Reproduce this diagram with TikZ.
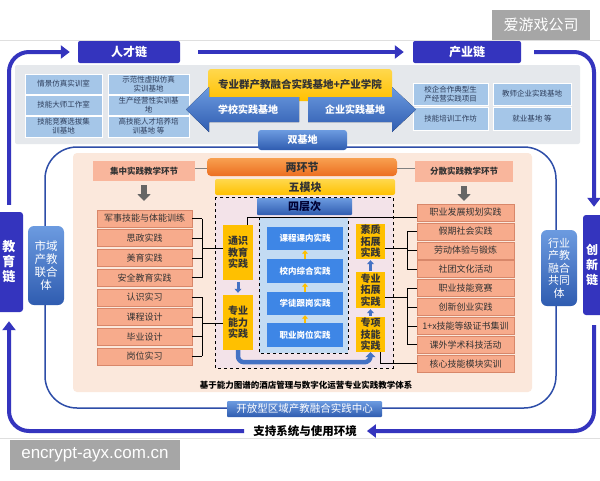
\documentclass[tikz,border=0pt]{standalone}
\usepackage{fontspec}
\setmainfont{Noto Sans CJK SC}
\newfontfamily\wmfont{Liberation Sans}
\usetikzlibrary{arrows.meta,calc}
\definecolor{chainblue}{HTML}{3434BE}
\definecolor{panelgray}{HTML}{E5E8EC}
\definecolor{smallblue}{HTML}{A5C6E8}
\definecolor{smalltext}{HTML}{2E3E5C}
\definecolor{midbluetop}{HTML}{6C9BE0}
\definecolor{midbluebot}{HTML}{2F5CB0}
\definecolor{gold}{HTML}{FFC000}
\definecolor{goldtop}{HTML}{FFD84D}
\definecolor{peach}{HTML}{FBE8DC}
\definecolor{salmon}{HTML}{F7AB8C}
\definecolor{salmonline}{HTML}{D8876A}
\definecolor{salmonhead}{HTML}{F9B69C}
\definecolor{orangetop}{HTML}{F8A050}
\definecolor{orangebot}{HTML}{EC6E20}
\definecolor{pinkfill}{HTML}{F3E3E9}
\definecolor{ladderfill}{HTML}{C3DBF3}
\definecolor{ladderbox}{HTML}{3E86E6}
\definecolor{outlineblue}{HTML}{2D4DA8}
\definecolor{wmgray}{HTML}{A6A6A6}
\definecolor{arrblue}{HTML}{4472C4}
\definecolor{darktext}{HTML}{333333}
\newcommand\fsz[2]{\fontsize{#1}{#2}\selectfont}
\newcommand\mybox[7]{%
  \pgfmathsetmacro\myw{#4-#2}\pgfmathsetmacro\myh{#5-#3}%
  \pgfmathsetmacro\mycx{(#2+#4)/2}\pgfmathsetmacro\mycy{(#3+#5)/2}%
  \node[#6,minimum width=\myw pt,minimum height=\myh pt,inner sep=0pt,align=center] (#1) at (\mycx,\mycy) {#7};}
\begin{document}
\begin{tikzpicture}[x=1pt,y=-1pt,
  chain/.style={fill=chainblue,text=white,font=\bfseries\fsz{12}{14},rounded corners=2},
  sidechain/.style={fill=chainblue,text=white,font=\bfseries\fsz{13}{15},rounded corners=3},
  small/.style={fill=smallblue,draw=white,line width=0.8pt,text=smalltext,font=\fsz{7.5}{9}},
  bluegrad/.style={top color=midbluetop,bottom color=midbluebot,rounded corners=3},
  goldgrad/.style={top color=goldtop,bottom color=gold},
  head/.style={fill=salmonhead,text=darktext,font=\bfseries\fsz{8.5}{10}},
  item/.style={fill=salmon,draw=salmonline,line width=0.5pt,text=darktext,font=\fsz{9}{10}},
  ybox/.style={fill=gold,text=darktext,font=\bfseries\fsz{10}{11.5}},
  ladder/.style={fill=ladderbox,text=white,font=\bfseries\fsz{8.5}{10}},
  loopline/.style={draw=chainblue,line width=4pt,rounded corners=20},
  looptip/.style={-{Triangle[width=13pt,length=9pt]}},
  bracket/.style={draw=black,line width=0.7pt},
  grayarrow/.style={draw=gray!80!black,line width=6pt,-{Triangle[width=13pt,length=7pt]}},
  smallarrow/.style={draw=arrblue,line width=3pt,-{Triangle[width=7pt,length=4pt]}},
  yarrow/.style={draw=gold,line width=2.5pt,-{Triangle[width=6pt,length=3.5pt]}},
  wm/.style={fill=wmgray,text=white}]
\useasboundingbox (0,0) rectangle (600,480);
\fill[white] (0,0) rectangle (600,480);
\begin{scope}
\clip (0,0) rectangle (600,480);
\draw[gray!25,line width=0.6pt] (0,40) -- (600,40);
\draw[gray!25,line width=0.6pt] (0,438) -- (600,438);
% top panel
\mybox{panel}{15}{65}{580}{144}{fill=panelgray,rounded corners=2}{}
% chain boxes
\mybox{rc}{78}{41}{180}{63}{chain}{人才链}
\mybox{cy}{413}{41}{521}{63}{chain}{产业链}
\mybox{jy}{-6}{212}{23}{312}{sidechain}{\hspace*{1pt}教\\\hspace*{1pt}育\\\hspace*{1pt}链}
\mybox{cx}{583}{215}{612}{315}{sidechain}{}
\node[font=\bfseries\fsz{12}{15},text=white,align=center,inner sep=0pt] (cxt) at (592,265) {创\\新\\链};
\node[font=\bfseries\fsz{11.5}{13},text=black,inner sep=2pt] (sys) at (305,431) {支持系统与使用环境};
\coordinate (lt) at (9,0);
\coordinate (rt) at (594,0);
% outer loop
\draw[loopline,looptip,shorten <=7pt,shorten >=8pt] (jy.north -| lt) |- (rc.west);
\draw[loopline,looptip,shorten <=18pt,shorten >=9pt] (rc.east) -- (cy.west);
\draw[loopline,looptip,shorten <=13pt,shorten >=8pt] (cy.east) -| (rt |- cx.north);
\draw[loopline,looptip,shorten <=10pt,shorten >=8pt] (rt |- cx.south) |- (sys.east);
\draw[loopline,looptip,shorten <=7pt,shorten >=9pt] (sys.west) -| (lt |- jy.south);
% left small boxes
\mybox{a1}{25}{74}{102}{94}{small}{情景仿真实训室}
\mybox{a2}{25}{95}{102}{115}{small}{技能大师工作室}
\mybox{a3}{25}{116}{102}{137}{small}{技能竞赛选拔集\\训基地}
\mybox{b1}{108}{74}{189}{94}{small}{示范性虚拟仿真\\实训基地}
\mybox{b2}{108}{95}{189}{115}{small}{生产经营性实训基\\地}
\mybox{b3}{108}{116}{189}{137}{small}{高技能人才培养培\\训基地 等}
% right small boxes
\mybox{c1}{413}{83}{488}{105}{small}{校企合作典型生\\产经营实践项目}
\mybox{c2}{413}{107}{488}{130}{small}{技能培训工作坊}
\mybox{d1}{493}{83}{571}{105}{small}{教师企业实践基地}
\mybox{d2}{493}{107}{571}{130}{small}{就业基地 等}
% yellow title
\mybox{ytitle}{208}{69}{392}{101}{goldgrad,rounded corners=3}{}
\node[font=\bfseries\fsz{10.5}{12},text=darktext] (ytext) at (300,85) {专业群产教融合实践基地+产业学院};
% double arrows
\fill[top color=midbluetop,bottom color=midbluebot] (299,97) -- (209,97) -- (209,87) -- (186,109.5) -- (209,132) -- (209,122) -- (299,122) -- cycle;
\fill[top color=midbluetop,bottom color=midbluebot] (308,97) -- (392,97) -- (392,87) -- (416,109.5) -- (392,132) -- (392,122) -- (308,122) -- cycle;
\node[font=\bfseries\fsz{10}{12},text=white] (sx) at (248,110) {学校实践基地};
\node[font=\bfseries\fsz{10}{12},text=white] (qy) at (355,110) {企业实践基地};
% middle outline
\draw[outlineblue,line width=1.5pt,rounded corners=32] (45,147) rectangle (556,408);
\mybox{sjd}{258}{130}{347}{150}{bluegrad,text=white,font=\bfseries\fsz{10}{12}}{双基地}
% peach panel
\fill[peach,rounded corners=4] (73,153) rectangle (532,392);
% side boxes
\mybox{sy}{28}{226}{64}{305}{bluegrad,rounded corners=6,text=white,font=\fsz{11.5}{13}}{市域\\产教\\联合\\体}
\mybox{hy}{541}{230}{577}{306}{bluegrad,rounded corners=6,text=white,font=\fsz{11}{12.5}}{行业\\产教\\融合\\共同\\体}
\mybox{kf}{227}{401}{382}{417}{bluegrad,rounded corners=1,text=white,font=\fsz{10.5}{12}}{开放型区域产教融合实践中心}
% headers
\mybox{lhd}{93}{161}{195}{181}{head}{集中实践教学环节}
\mybox{rhd}{415}{161}{513}{182}{head}{分散实践教学环节}
\draw[grayarrow,shorten <=4pt,shorten >=9pt] (lhd.south) -- (144,210);
\draw[grayarrow,shorten <=4pt,shorten >=3pt] (rhd.south |- 0,182) -- (rhd.south |- 0,204);
% left list
\mybox{l0}{97}{210}{192}{227}{item}{军事技能与体能训练}
\mybox{l1}{97}{229.7}{192}{246.7}{item}{思政实践}
\mybox{l2}{97}{249.4}{192}{266.4}{item}{美育实践}
\mybox{l3}{97}{269.1}{192}{286.1}{item}{安全教育实践}
\mybox{l4}{97}{288.8}{192}{305.8}{item}{认识实习}
\mybox{l5}{97}{308.5}{192}{325.5}{item}{课程设计}
\mybox{l6}{97}{328.2}{192}{345.2}{item}{毕业设计}
\mybox{l7}{97}{347.9}{192}{364.9}{item}{岗位实习}
% right list
\mybox{r0}{417}{204}{514}{221}{item}{职业发展规划实践}
\mybox{r1}{417}{222.9}{514}{239.9}{item}{假期社会实践}
\mybox{r2}{417}{241.8}{514}{258.8}{item}{劳动体验与锻炼}
\mybox{r3}{417}{260.7}{514}{277.7}{item}{社团文化活动}
\mybox{r4}{417}{279.6}{514}{296.6}{item}{职业技能竞赛}
\mybox{r5}{417}{298.5}{514}{315.5}{item}{创新创业实践}
\mybox{r6}{417}{317.4}{514}{334.4}{item}{1+x技能等级证书集训}
\mybox{r7}{417}{336.3}{514}{353.3}{item}{课外学术科技活动}
\mybox{r8}{417}{355.2}{514}{372.2}{item}{核心技能模块实训}
% center bars
\mybox{ljd}{207}{158}{397}{176}{top color=orangetop,bottom color=orangebot,rounded corners=4,text=darktext,font=\bfseries\fsz{11}{12}}{两环节}
\coordinate (hl) at (0,168);
\draw[bracket,draw=gray] (lhd.east |- hl) -- (ljd.west |- hl);
\draw[bracket,draw=gray] (ljd.east |- hl) -- (rhd.west |- hl);
\mybox{wmk}{215}{179}{395}{195}{goldgrad,rounded corners=2,text=darktext,font=\bfseries\fsz{11}{12}}{五模块}
\draw[dashed,line width=0.8pt,fill=pinkfill] (215,197) rectangle (393,368);
\mybox{scc}{257}{198}{352}{215}{bluegrad,rounded corners=1,text=black!80!blue,font=\bfseries\fsz{11}{12}}{四层次}
\draw[dashed,line width=0.8pt,fill=ladderfill] (259,217) rectangle (348,353);
\mybox{k1}{267}{227}{343}{250}{ladder}{课程课内实践}
\mybox{k2}{267}{259}{343}{283}{ladder}{校内综合实践}
\mybox{k3}{267}{292}{343}{315}{ladder}{学徒跟岗实践}
\mybox{k4}{267}{323}{343}{347}{ladder}{职业岗位实践}
\draw[yarrow] (k2.north) -- (k1.south);
\draw[yarrow] (k3.north) -- (k2.south);
\draw[yarrow] (k4.north) -- (k3.south);
% yellow vertical boxes
\mybox{ts}{223}{225}{253}{280}{ybox}{通识\\教育\\实践}
\mybox{zn}{223}{295}{253}{350}{ybox}{专业\\能力\\实践}
\mybox{sz}{356}{224}{385}{259}{ybox}{素质\\拓展\\实践}
\mybox{tz}{356}{272}{385}{308}{ybox}{专业\\拓展\\实践}
\mybox{zx}{356}{317}{385}{352}{ybox}{专项\\技能\\实践}
\draw[smallarrow,shorten <=2pt,shorten >=2pt] (ts.south) -- (zn.north);
\draw[smallarrow,shorten <=1pt,shorten >=1pt] (tz.north) -- (sz.south);
\draw[smallarrow,shorten <=1pt,shorten >=1pt] (zx.north) -- (tz.south);
\draw[draw=arrblue,line width=4.5pt,rounded corners=6,-{Triangle[width=10pt,length=5pt]}] (zn.south) -- ++(0,12) -| (zx.south);
% top connector line
\coordinate (tp) at (247,217);
\draw[bracket] (tp |- ts.north) -- (tp) -- (tp -| r0.west);
% left brackets
\coordinate (bl) at (202,0);
\foreach \n in {l0,l1,l2,l3,l4,l5,l6,l7} {\draw[bracket] (\n.east) -- (\n.east -| bl);}
\draw[bracket] (l0.east -| bl) -- (l3.east -| bl);
\draw[bracket] (l4.east -| bl) -- (l7.east -| bl);
\coordinate (bl1) at (202,248);
\coordinate (bl2) at (202,323);
\draw[bracket] (bl1) -- (bl1 -| ts.west);
\draw[bracket] (bl2) -- (bl2 -| zn.west);
% right brackets
\coordinate (br) at (407,0);
\foreach \n in {r1,r2,r3,r4,r5,r6,r7} {\draw[bracket] (\n.west) -- (\n.west -| br);}
\draw[bracket] (r1.west -| br) -- (r3.west -| br);
\draw[bracket] (r4.west -| br) -- (r7.west -| br);
\coordinate (br1) at (407,248);
\coordinate (br2) at (407,297);
\draw[bracket] (br1) -- (br1 -| sz.east);
\draw[bracket] (br2) -- (br2 -| tz.east);
\coordinate (zc) at (380,352);
\draw[bracket] (zc) |- (r8.west);
% caption
\node[font=\bfseries\fsz{8.5}{10},text=black] (cap) at (306,385) {基于能力图谱的酒店管理与数字化运营专业实践教学体系};
% watermarks
\mybox{wm1}{492}{10}{590}{40}{wm,font=\fsz{15}{16}}{爱游戏公司}
\mybox{wm2}{10}{440}{180}{470}{wm,font=\wmfont\fsz{17}{18}}{encrypt-ayx.com.cn}
\end{scope}
\end{tikzpicture}
\end{document}
